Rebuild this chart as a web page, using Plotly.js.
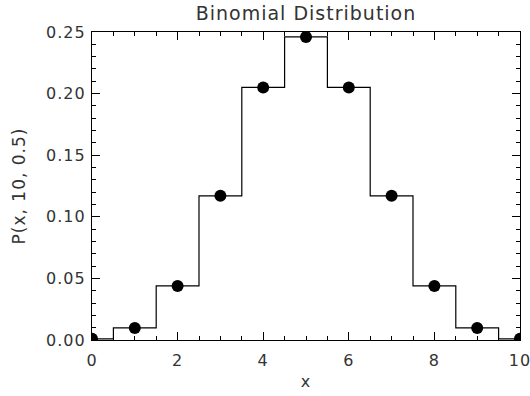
<!DOCTYPE html>
<html>
<head>
<meta charset="utf-8">
<script src="https://cdn.plot.ly/plotly-3.0.1.min.js"></script>
<style>
html,body{margin:0;padding:0;background:#fff;}
#chart{width:530px;height:396px;}
#chart text{letter-spacing:1px;}
</style>
</head>
<body>
<div id="chart"></div>
<script>
const xValues = [0, 1, 2, 3, 4, 5, 6, 7, 8, 9, 10];
const probabilities = [0.000977, 0.00977, 0.0439, 0.117, 0.205, 0.246, 0.205, 0.117, 0.0439, 0.00977, 0.000977];
const xTickVals = [0, 2, 4, 6, 8, 10];
const xTickText = ['0', '2', '4', '6', '8', '10'];
const yTickVals = [0, 0.05, 0.10, 0.15, 0.20, 0.25];
const yTickText = ['0.00', '0.05', '0.10', '0.15', '0.20', '0.25'];

const fontFam = 'DejaVu Sans, sans-serif';
const txtColor = '#333';
const traces = [
  {
    x: xValues, y: probabilities, type: 'scatter', mode: 'lines',
    line: {shape: 'hvh', color: '#000', width: 1.2},
    hoverinfo: 'skip'
  },
  {
    x: xValues, y: probabilities, type: 'scatter', mode: 'markers',
    marker: {color: '#000', size: 12},
    cliponaxis: true
  }
];
const axisCommon = {
  showline: true, linecolor: '#000', linewidth: 1.2, mirror: 'ticks',
  ticks: 'inside', ticklen: 8, tickwidth: 1, tickcolor: '#000',
  showgrid: false, zeroline: false,
  ticklabeloverflow: 'allow',
  tickfont: {family: fontFam, size: 16, color: txtColor}
};
const layout = {
  width: 530, height: 396,
  margin: {l: 92, r: 10, t: 32, b: 56},
  paper_bgcolor: '#fff', plot_bgcolor: '#fff',
  showlegend: false,
  title: {text: 'Binomial Distribution', font: {family: fontFam, size: 19, color: txtColor}, x: 0.5, xref: 'paper', xanchor: 'center', y: 0.967, yanchor: 'middle'},
  xaxis: Object.assign({}, axisCommon, {
    range: [0, 10], tickmode: 'array', tickvals: xTickVals, ticktext: xTickText,
    ticklabelstandoff: 6,
    minor: {ticks: 'inside', dtick: 0.5, tick0: 0, ticklen: 4, tickcolor: '#000', showgrid: false},
    title: {text: 'x', font: {family: fontFam, size: 16, color: txtColor}, standoff: 6}
  }),
  yaxis: Object.assign({}, axisCommon, {
    range: [0, 0.25], tickmode: 'array', tickvals: yTickVals, ticktext: yTickText,
    ticklabelstandoff: 2,
    minor: {ticks: 'inside', dtick: 0.01, tick0: 0, ticklen: 4, tickcolor: '#000', showgrid: false},
    title: {text: 'P(x, 10, 0.5)', font: {family: fontFam, size: 17, color: txtColor}, standoff: 20}
  })
};
Plotly.newPlot('chart', traces, layout, {staticPlot: true});
</script>
</body>
</html>
